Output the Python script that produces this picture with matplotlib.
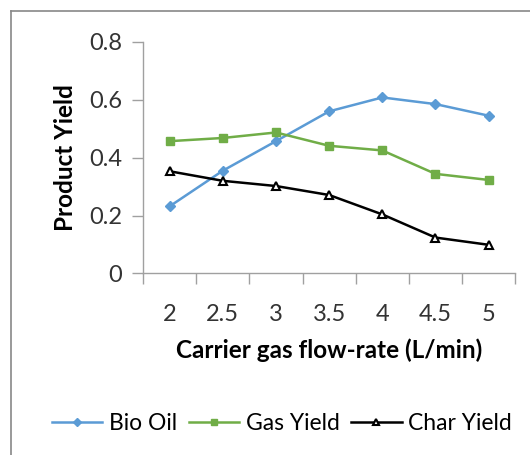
import numpy as np
import matplotlib.pyplot as plt
from matplotlib.lines import Line2D

plt.rcParams['font.family'] = ['Lato', 'DejaVu Sans']

# data
flow_rates = ['2', '2.5', '3', '3.5', '4', '4.5', '5']
bio_oil = [0.232, 0.355, 0.457, 0.560, 0.608, 0.585, 0.545]
gas_yield = [0.457, 0.468, 0.487, 0.441, 0.425, 0.344, 0.323]
char_yield = [0.353, 0.320, 0.302, 0.271, 0.204, 0.124, 0.099]

fig = plt.figure(figsize=(5.3, 4.55), dpi=100)
ax = fig.add_axes([0.270, 0.399, 0.702, 0.509])

x = np.arange(len(flow_rates))
ax.plot(x, bio_oil, color='#5B9BD5', lw=1.8, marker='D', ms=5, label='Bio Oil')
ax.plot(x, gas_yield, color='#70AD47', lw=1.8, marker='s', ms=6, label='Gas Yield')
ax.plot(x, char_yield, color='black', lw=1.8, marker='^', ms=6,
        markerfacecolor='white', markeredgewidth=1.5, label='Char Yield')

ax.set_xlim(-0.5, len(flow_rates) - 0.5)
ax.set_ylim(0, 0.8)
ax.set_yticks([0, 0.2, 0.4, 0.6, 0.8])
ax.set_yticklabels(['0', '0.2', '0.4', '0.6', '0.8'])
ax.set_xticks(x)
ax.set_xticklabels(flow_rates)
ax.set_xticks(np.arange(-0.5, len(flow_rates)), minor=True)
ax.tick_params(axis='x', which='major', length=0, pad=22, labelsize=17, colors='#333333')
ax.tick_params(axis='x', which='minor', length=8, color='#A0A0A0', width=1)
ax.tick_params(axis='y', length=8, color='#A0A0A0', width=1, pad=7,
               labelsize=17, labelcolor='#333333')

for s in ['top', 'right']:
    ax.spines[s].set_visible(False)
for s in ['left', 'bottom']:
    ax.spines[s].set_color('#A0A0A0')
    ax.spines[s].set_linewidth(1)

ax.set_xlabel('Carrier gas flow-rate (L/min)', fontsize=17.5, fontweight='bold', labelpad=10)
ax.set_ylabel('Product Yield', fontsize=17.5, fontweight='bold', labelpad=9)

fig.legend(loc='center', bbox_to_anchor=(0.532, 0.07), ncol=3, frameon=False,
           fontsize=16.5, handlelength=2.2, handletextpad=0.3, columnspacing=0.5,
           markerscale=0.75)

# chart border (left and top visible)
fig.add_artist(Line2D([0.021, 0.021], [0, 0.976], color='#888888', lw=1.2))
fig.add_artist(Line2D([0.021, 1.0], [0.976, 0.976], color='#888888', lw=1.2))

fig.savefig('out.png', dpi=100)
